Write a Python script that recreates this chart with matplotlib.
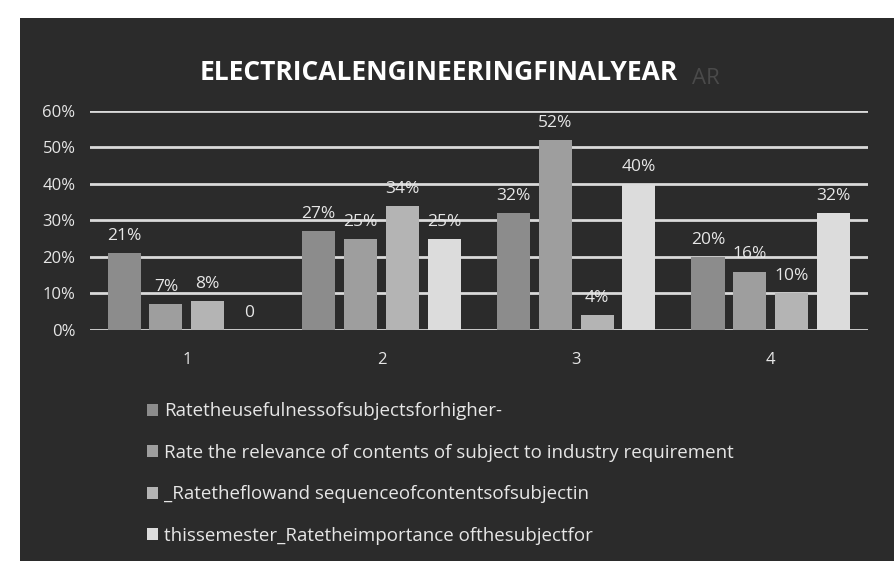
import matplotlib

matplotlib.use("Agg")
import matplotlib.pyplot as plt  # noqa: E402
import numpy as np  # noqa: E402
from matplotlib.patches import Rectangle  # noqa: E402

categories = ["1", "2", "3", "4"]
series_names = [
    "Ratetheusefulnessofsubjectsforhigher-",
    "Rate the relevance of contents of subject to industry requirement",
    "_Ratetheflowand sequenceofcontentsofsubjectin",
    "thissemester_Ratetheimportance ofthesubjectfor",
]
usefulness = [21, 27, 32, 20]
relevance = [7, 25, 52, 16]
flow = [8, 34, 4, 10]
importance = [0, 25, 40, 32]
value_labels = [
    ["21%", "27%", "32%", "20%"],
    ["7%", "25%", "52%", "16%"],
    ["8%", "34%", "4%", "10%"],
    ["0", "25%", "40%", "32%"],
]
colors = ["#8c8c8c", "#9e9e9e", "#b4b4b4", "#dcdcdc"]

BG = "#2b2b2b"
FG = "#e6e6e6"


def main() -> None:
    plt.rcParams.update({"font.family": "Open Sans"})
    fig = plt.figure(figsize=(8.95, 5.84), dpi=100, facecolor="white")
    fig.patches.append(
        Rectangle((0.022, 0.04), 0.978, 0.93, transform=fig.transFigure,
                  facecolor=BG, edgecolor="none", zorder=-10)
    )
    ax = fig.add_axes([0.10, 0.435, 0.87, 0.375])
    ax.set_facecolor(BG)

    data = [usefulness, relevance, flow, importance]
    x = np.arange(len(categories))
    width = 0.17
    gap = 0.045
    offsets = (np.arange(4) - 1.5) * (width + gap)
    handles = []
    for i, (vals, col) in enumerate(zip(data, colors)):
        bars = ax.bar(x + offsets[i], [v / 100 for v in vals], width,
                      color=col, zorder=3)
        handles.append(bars)
        for bar, lab in zip(bars, value_labels[i]):
            ax.text(bar.get_x() + bar.get_width() / 2, bar.get_height() + 0.025,
                    lab, ha="center", va="bottom", color=FG, fontsize=12.5)

    ax.set_ylim(0, 0.6)
    ticks = np.arange(0, 0.61, 0.1)
    ax.set_yticks(ticks)
    ax.set_yticklabels([f"{int(round(t * 100))}%" for t in ticks])
    ax.set_xticks(x)
    ax.set_xticklabels(categories)
    ax.set_xlim(-0.5, 3.5)
    ax.grid(axis="y", color="#dadada", linewidth=2.0, zorder=0)
    ax.tick_params(colors=FG, labelsize=12, length=0, pad=10)
    ax.tick_params(axis="x", pad=16)
    for spine in ax.spines.values():
        spine.set_visible(False)

    fig.text(0.49, 0.875, "ELECTRICALENGINEERINGFINALYEAR", ha="center",
             va="center", color="white", fontsize=19, fontweight="bold")
    fig.text(0.773, 0.865, "AR", ha="left", va="center", color="#4a4a4a",
             fontsize=16)

    fig.legend(handles, series_names, loc="upper left",
               bbox_to_anchor=(0.145, 0.34), frameon=False,
               labelcolor=FG, fontsize=13.5, handlelength=0.6,
               handleheight=0.6, handletextpad=0.35, labelspacing=1.25)

    fig.savefig("out.png", dpi=100, facecolor="white")
    plt.close(fig)


if __name__ == "__main__":
    main()
